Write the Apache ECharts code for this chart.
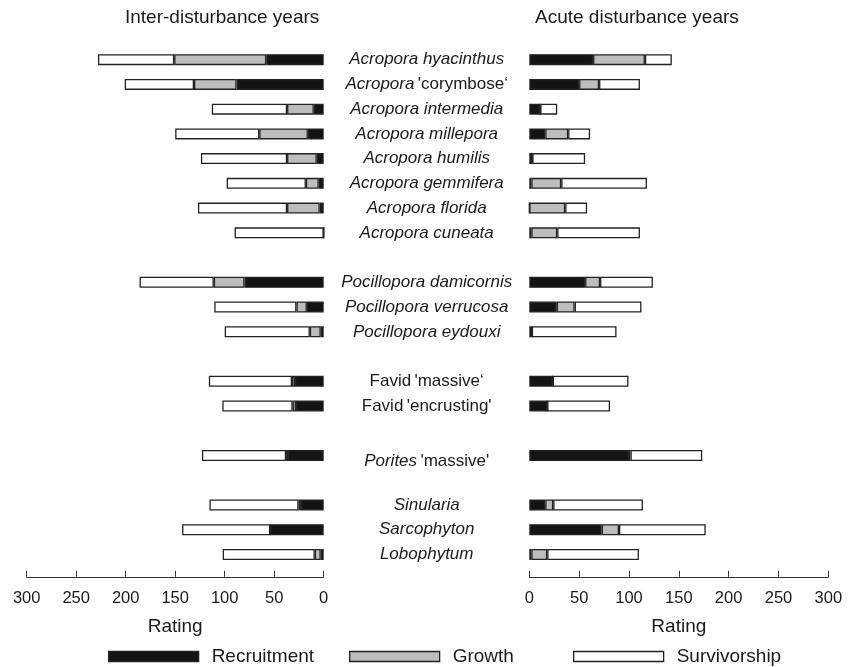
<!DOCTYPE html>
<html>
<head>
<meta charset="utf-8">
<script src="https://cdn.jsdelivr.net/npm/echarts@6/dist/echarts.min.js"></script>
<style>
  html, body { margin: 0; padding: 0; background: #fff; }
  #chart { width: 859px; height: 667px; }
</style>
</head>
<body>
<div id="chart"></div>
<script>
// Taxa, grouped; a blank row separates consecutive groups
const speciesGroups = [
  ["Acropora hyacinthus", "Acropora 'corymbose‘", "Acropora intermedia", "Acropora millepora",
   "Acropora humilis", "Acropora gemmifera", "Acropora florida", "Acropora cuneata"],
  ["Pocillopora damicornis", "Pocillopora verrucosa", "Pocillopora eydouxi"],
  ["Favid 'massive‘", "Favid 'encrusting'"],
  ["Porites 'massive'"],
  ["Sinularia", "Sarcophyton", "Lobophytum"]
];

// Ratings per taxon (same order as speciesGroups, flattened)
const interRecruitment = [58, 88, 10, 16, 7, 5, 4, 0, 80, 17, 3, 29, 28, 36, 23, 54, 3];
const interGrowth      = [93, 43, 27, 49, 30, 13, 33, 0, 31, 10.5, 11, 3, 3.4, 2, 2.4, 0, 6];
const interSurvival    = [77, 70, 76, 85, 87, 80, 90, 90, 75, 83, 86, 84, 71, 85, 90, 89, 93];

const acuteRecruitment = [64, 50, 11, 16, 3, 2, 0, 2, 56, 27.5, 2.5, 23.5, 18, 100, 16, 72.6, 2];
const acuteGrowth      = [52, 20, 0, 23, 0, 30, 36, 26, 15, 18, 0, 0, 0, 1.5, 8, 17.4, 16];
const acuteSurvival    = [27, 41, 17, 22, 53, 86, 22, 83, 53, 67, 85, 76, 63, 72, 90, 87, 92];

const ratingTicks = [0, 50, 100, 150, 200, 250, 300];
const seriesNames = ['Recruitment', 'Growth', 'Survivorship'];

// Build the category list with blank separator rows and spread values onto it
const categories = [];
const slotOfSpecies = [];
speciesGroups.forEach((g, gi) => {
  if (gi > 0) categories.push('');
  g.forEach(s => { slotOfSpecies.push(categories.length); categories.push(s); });
});
function spread(values) {
  const out = categories.map(() => '-');
  values.forEach((v, i) => { out[slotOfSpecies[i]] = v; });
  return out;
}

const FONT = 'Liberation Sans, Arial, Helvetica, sans-serif';
const INK = '#1a1a1a';
const fills = ['#141414', '#bdbdbd', '#ffffff'];

// Genus names in italics, informal (quoted) names and 'Favid' upright.
// The Porites row sits a little lower than its bar.
function labelFormatter(name) {
  if (!name) return '';
  const low = name.indexOf('Porites') === 0 ? 'L' : '';
  const q = name.indexOf("'");
  if (q < 0) return '{i' + low + '|' + name + '}';
  const head = name.slice(0, q).trim();
  const tail = name.slice(q);
  const headStyle = head === 'Favid' ? 'n' : 'i';
  return '{' + headStyle + low + '|' + head + '} {n' + low + '|' + tail + '}';
}

function xAxisFor(gridIndex, inverse) {
  return {
    type: 'value', gridIndex, inverse,
    min: 0, max: 300, interval: 50,
    position: 'bottom', offset: 10,
    axisLine: { show: true, lineStyle: { color: '#333', width: 1 } },
    axisTick: { show: true, inside: true, length: 6, lineStyle: { color: '#333' } },
    splitLine: { show: false },
    axisLabel: {
      color: INK, fontSize: 16.5, fontFamily: FONT, margin: 13,
      formatter: v => ratingTicks.includes(v) ? String(v) : ''
    },
    name: 'Rating', nameLocation: 'middle', nameGap: 40,
    nameTextStyle: { color: INK, fontSize: 19, fontFamily: FONT }
  };
}

function barSeries(name, idx, gridIdx, values) {
  return {
    name, type: 'bar', stack: 'g' + gridIdx,
    xAxisIndex: gridIdx, yAxisIndex: gridIdx,
    data: spread(values),
    barWidth: 11,
    itemStyle: { color: fills[idx], borderColor: '#222', borderWidth: 1.3 },
    emphasis: { disabled: true },
    animation: false
  };
}

const legendLeft = [108, 349, 573];
const labelText = { fontSize: 17, color: INK, fontFamily: FONT };

const option = {
  backgroundColor: '#fff',
  animation: false,
  textStyle: { fontFamily: FONT },
  title: [
    { text: 'Inter-disturbance years', left: 120, top: 3,
      textStyle: { color: INK, fontSize: 19, fontWeight: 'normal', fontFamily: FONT } },
    { text: 'Acute disturbance years', left: 530, top: 3,
      textStyle: { color: INK, fontSize: 19, fontWeight: 'normal', fontFamily: FONT } }
  ],
  legend: seriesNames.map((n, i) => ({
    data: [n], left: legendLeft[i], top: 647, padding: 0,
    icon: 'rect', itemWidth: 90, itemHeight: 10, itemGap: 0,
    selectedMode: false,
    textStyle: { color: INK, fontSize: 19, fontFamily: FONT, padding: [0, 0, 0, 8] },
    itemStyle: { borderColor: '#222', borderWidth: 1.3 }
  })),
  grid: [
    { left: 26.7, width: 297, top: 47.3, height: 519.5 },
    { left: 529.3, width: 299, top: 47.3, height: 519.5 }
  ],
  xAxis: [xAxisFor(0, true), xAxisFor(1, false)],
  yAxis: [
    {
      type: 'category', gridIndex: 0, inverse: true, position: 'right',
      data: categories,
      axisLine: { show: false }, axisTick: { show: false }, splitLine: { show: false },
      axisLabel: {
        show: true, interval: 0, margin: 103, align: 'center',
        formatter: labelFormatter,
        rich: {
          i: Object.assign({ fontStyle: 'italic' }, labelText),
          n: Object.assign({ fontStyle: 'normal' }, labelText),
          iL: Object.assign({ fontStyle: 'italic', padding: [12, 0, 0, 0] }, labelText),
          nL: Object.assign({ fontStyle: 'normal', padding: [12, 0, 0, 0] }, labelText)
        }
      }
    },
    {
      type: 'category', gridIndex: 1, inverse: true, position: 'left',
      data: categories,
      axisLine: { show: false }, axisTick: { show: false }, splitLine: { show: false },
      axisLabel: { show: false }
    }
  ],
  series: [
    barSeries(seriesNames[0], 0, 0, interRecruitment),
    barSeries(seriesNames[1], 1, 0, interGrowth),
    barSeries(seriesNames[2], 2, 0, interSurvival),
    barSeries(seriesNames[0], 0, 1, acuteRecruitment),
    barSeries(seriesNames[1], 1, 1, acuteGrowth),
    barSeries(seriesNames[2], 2, 1, acuteSurvival)
  ]
};

const chart = echarts.init(document.getElementById('chart'), null, { renderer: 'canvas' });
chart.setOption(option);
</script>
</body>
</html>
